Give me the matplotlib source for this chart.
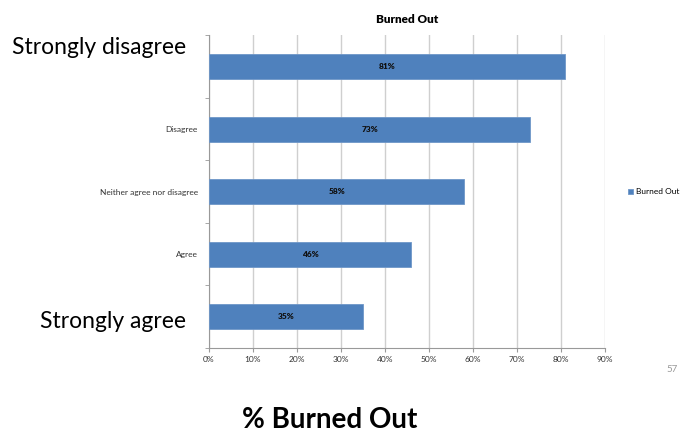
import matplotlib; matplotlib.use("Agg")
import matplotlib.pyplot as plt
import numpy as np

# data (top to bottom as in the picture)
categories = ["Strongly disagree", "Disagree", "Neither agree nor disagree", "Agree", "Strongly agree"]
burned_out = [81, 73, 58, 46, 35]
xticks = list(range(0, 91, 10))

plt.rcParams["font.family"] = ["Lato", "DejaVu Sans"]
fig = plt.figure(figsize=(6.81, 4.34), dpi=100)
ax = fig.add_axes([0.3069, 0.198, 0.5815, 0.721])

y = np.arange(len(categories))[::-1]
ax.barh(y, burned_out, height=0.4, color="#4f81bd", edgecolor="#6f97c8", lw=0.6,
        label="Burned Out", zorder=3)
for yi, v in zip(y, burned_out):
    ax.text(v / 2, yi, f"{v}%", ha="center", va="center", fontsize=6,
            fontweight="heavy", color="#111111", zorder=4)

ax.set_xlim(0, 90); ax.set_ylim(-0.5, len(categories) - 0.5)
ax.set_xticks(xticks); ax.set_xticklabels([f"{t}%" for t in xticks], fontsize=6, color="#333333")
ax.set_yticks(y)
ax.set_yticklabels(["", "Disagree", "Neither agree nor disagree", "Agree", ""], fontsize=6, color="#333333")
ax.tick_params(axis="y", length=0, pad=8)
ax.set_yticks(np.arange(-0.5, len(categories), 1), minor=True)
ax.tick_params(axis="y", which="minor", length=3, color="#999999")
ax.tick_params(axis="x", length=3, color="#999999", pad=3)
ax.grid(axis="x", color="#cfcfcf", lw=1, zorder=0)
for s in ["top", "right"]: ax.spines[s].set_visible(False)
for s in ["left", "bottom"]: ax.spines[s].set_color("#999999")

ax.set_title("Burned Out", fontsize=8.5, fontweight="heavy", pad=9)
ax.legend(loc="center left", bbox_to_anchor=(1.04, 0.5), frameon=False, fontsize=6,
          handlelength=0.6, handleheight=0.6, handletextpad=0.3)

fig.text(12/681, 1 - 48/434, "Strongly disagree", fontsize=16.5, va="center", ha="left")
fig.text(40/681, 1 - 321/434, "Strongly agree", fontsize=16.5, va="center", ha="left")
fig.text(330/681, 1 - 420/434, "% Burned Out", fontsize=20, fontweight="bold", va="center", ha="center")
fig.text(678/681, 1 - 370/434, "57", fontsize=7, color="#999999", va="center", ha="right")

fig.savefig("out.png", dpi=100)
